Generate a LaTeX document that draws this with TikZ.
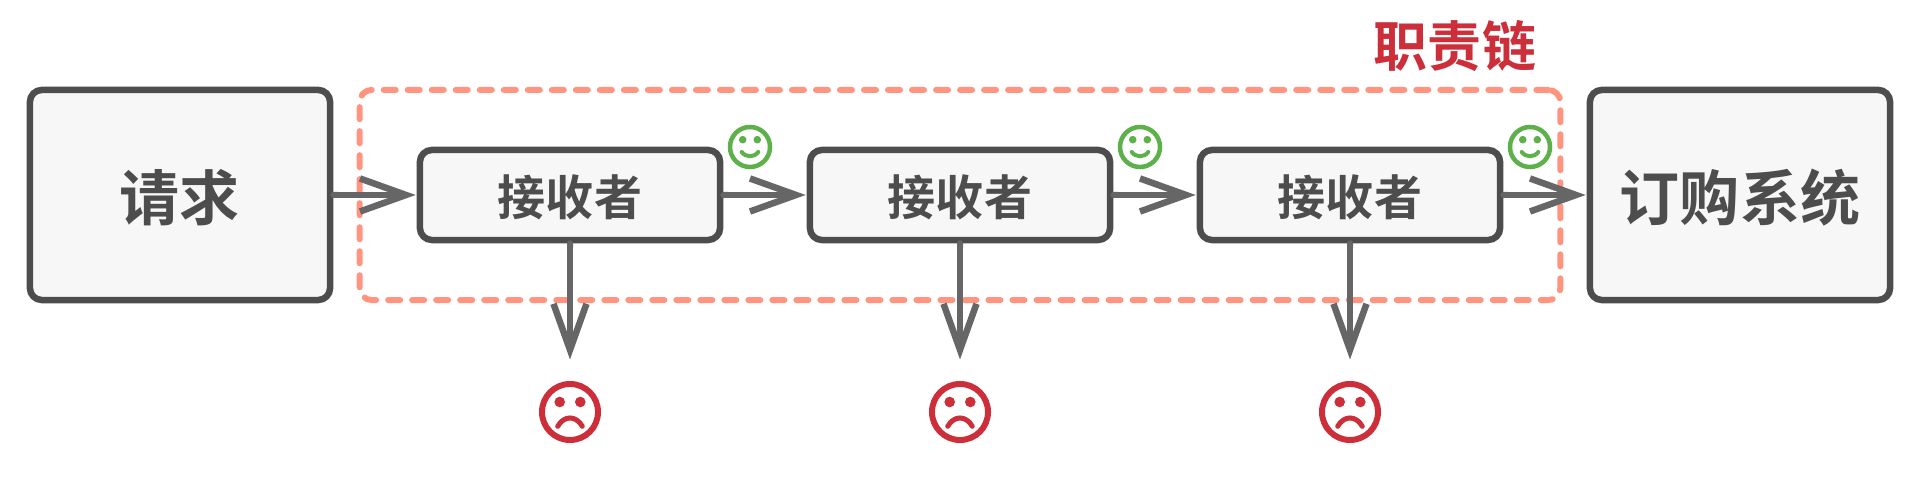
\documentclass[tikz,border=0pt]{standalone}
\usepackage{fontspec}
\usepackage{xcolor}
\usepackage{tikz}
\usetikzlibrary{calc,positioning,arrows.meta}
\newfontfamily\cjkfont{Noto Sans CJK SC}[BoldFont={Noto Sans CJK SC Bold}]
\definecolor{boxline}{HTML}{4D4D4D}
\definecolor{boxfill}{HTML}{F7F7F7}
\definecolor{wire}{HTML}{666666}
\definecolor{chainred}{HTML}{FF9580}
\definecolor{sadred}{HTML}{CC2F3A}
\definecolor{happygreen}{HTML}{5DB04A}

\begin{document}
\begin{tikzpicture}[x=0.01cm, y=-0.01cm,
    endbox/.style={draw=boxline, fill=boxfill, line width=0.065cm, rounded corners=0.12cm,
                   minimum width=3cm, minimum height=2.1cm, inner sep=0pt, text=boxline,
                   text height=0.6cm, text depth=0.1cm,
                   font=\cjkfont\bfseries\fontsize{17.07pt}{20pt}\selectfont},
    handler/.style={endbox, minimum height=0.9cm, text height=0.48cm, text depth=0.08cm,
                    font=\cjkfont\bfseries\fontsize{13.66pt}{16pt}\selectfont},
    link/.style={{Round Cap[]}-{Straight Barb[length=0.46cm, width=0.33cm, line width=0.065cm]},
                 wire, line width=0.06cm, shorten >=0.01cm, shorten <=-0.03cm},
    sadface/.style={circle, draw=sadred, line width=0.06cm, minimum size=0.56cm, inner sep=0pt},
    happyface/.style={circle, draw=happygreen, line width=0.045cm, minimum size=0.4cm, inner sep=0pt}]
  \useasboundingbox (0,0) rectangle (1920,480);
  % rahmen der kette
  \node[draw=chainred, line width=0.06cm, rounded corners=0.12cm, line cap=round,
        dash pattern=on 0.12cm off 0.12cm, minimum width=12cm, minimum height=2.1cm,
        inner sep=0pt] (chain) at (960,195) {};
  \node[font=\cjkfont\bfseries\fontsize{15.37pt}{18pt}\selectfont, text=sadred,
        text height=0.54cm, text depth=0.1cm] (title) at (1455,45) {职责链};
  \node[endbox] (request) at (180,195) {请求};
  \node[endbox] (order) at (1740,195) {订购系统};
  \foreach \i/\x in {1/570, 2/960, 3/1350} {
    \node[handler] (r\i) at (\x,195) {接收者};
    \node[sadface] (sad\i) at (\x,412) {};
    \node[happyface] (happy\i) at (\x+180,147) {};
    % augen und mund
    \fill[sadred] ($(sad\i)+(-10.3,-10)$) circle (5.3) ($(sad\i)+(10.3,-10)$) circle (5.3);
    \draw[sadred, line width=0.05cm, line cap=round] ($(sad\i)+(-12.3,14.3)$)
        .. controls ($(sad\i)+(-6,3.2)$) and ($(sad\i)+(6,3.2)$) .. ($(sad\i)+(12.3,14.3)$);
    \fill[happygreen] ($(happy\i)+(-7.3,-7.3)$) circle (3.8) ($(happy\i)+(7.3,-7.3)$) circle (3.8);
    \draw[happygreen, line width=0.04cm, line cap=round] ($(happy\i)+(-8.3,5)$)
        .. controls ($(happy\i)+(-4,10.7)$) and ($(happy\i)+(4,10.7)$) .. ($(happy\i)+(8.3,5)$);
    \draw[link, shorten >=0.215cm] (r\i.south) -- (sad\i.north);
  }
  \draw[link] (request.east) -- (r1.west);
  \draw[link] (r1.east) -- (r2.west);
  \draw[link] (r2.east) -- (r3.west);
  \draw[link] (r3.east) -- (order.west);
\end{tikzpicture}
\end{document}
